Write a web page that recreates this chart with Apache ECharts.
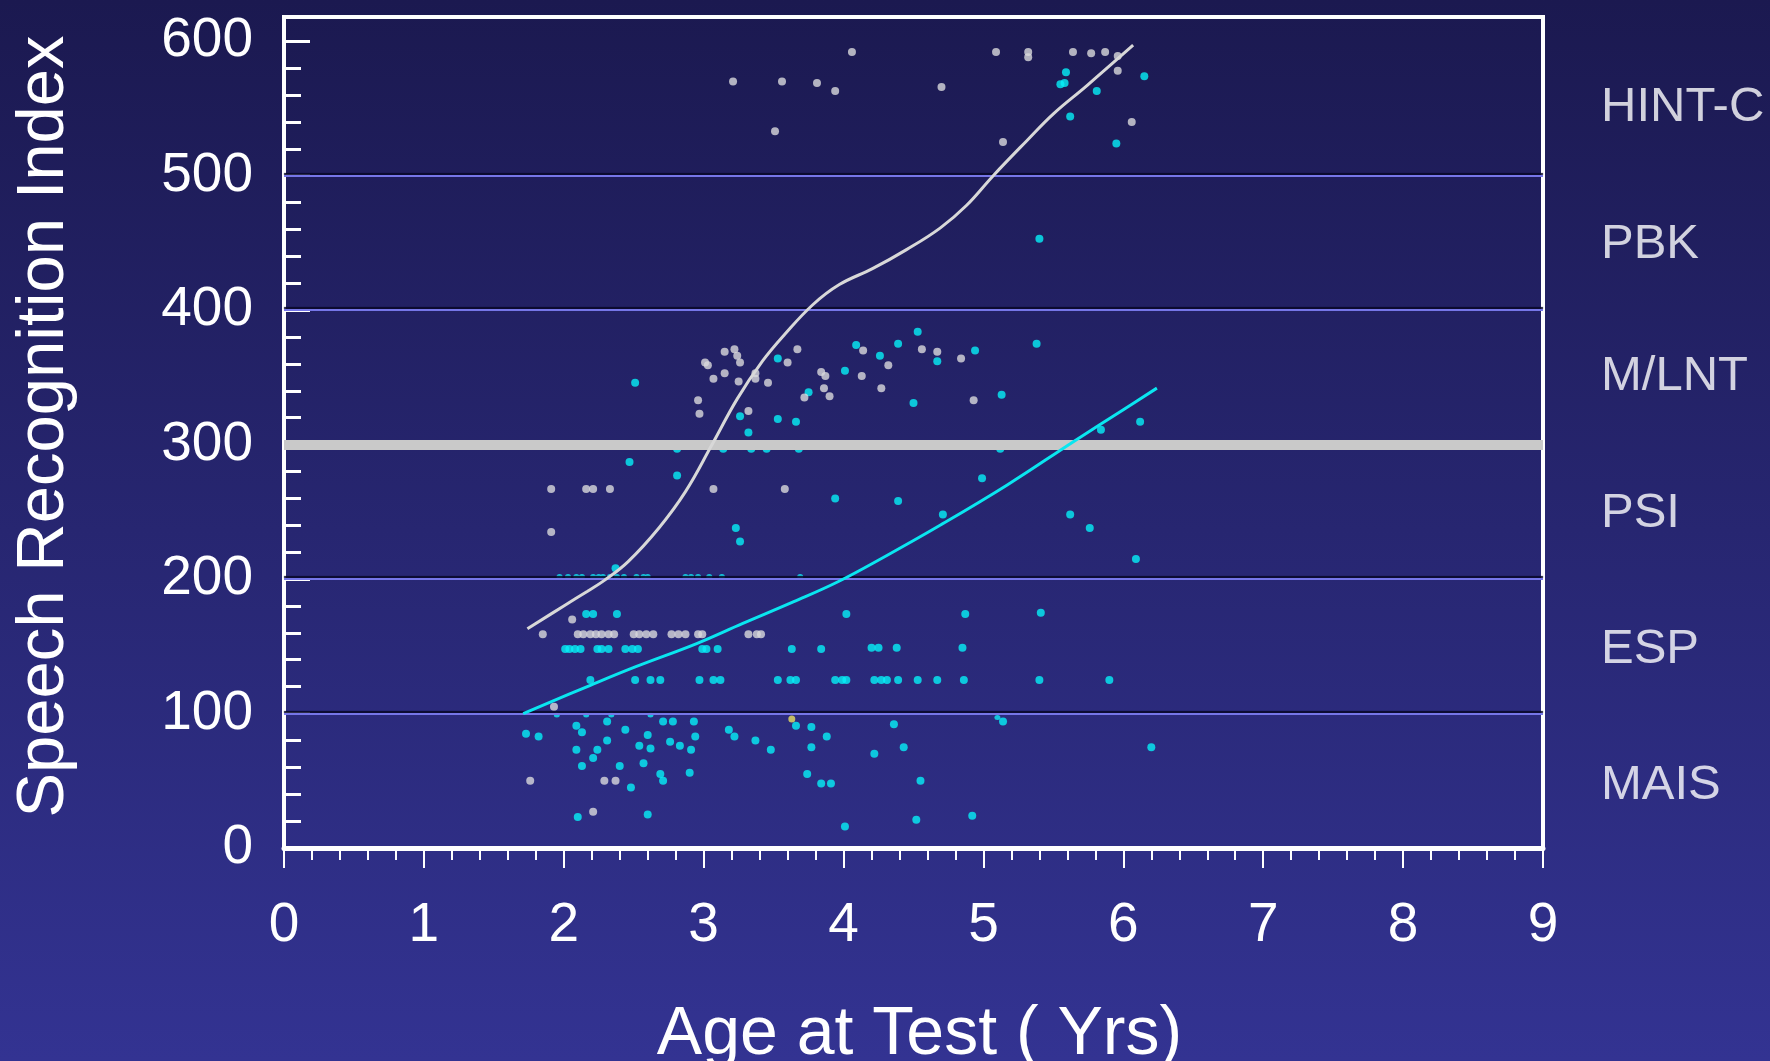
<!DOCTYPE html>
<html>
<head>
<meta charset="utf-8">
<script src="https://cdn.jsdelivr.net/npm/echarts@6/dist/echarts.min.js"></script>
<style>
html,body{margin:0;padding:0;width:1770px;height:1061px;overflow:hidden;}
#chart{width:1770px;height:1061px;}
</style>
</head>
<body>
<div id="chart"></div>
<script>
// ---- data ----
var xTicks = [0,1,2,3,4,5,6,7,8,9];
var yTicks = [0,100,200,300,400,500,600];
var bandNames = ['MAIS','ESP','PSI','M/LNT','PBK','HINT-C'];
var bandCenters = [49,150,251,353,451,553];
var bandLines = [100,200,400,500];
var criterionLine = 300;

var whitePoints = [
 [3.21,570],[3.56,570],[3.81,569],[3.94,563],[3.51,533],[4.06,592],[4.70,566],[5.09,592],[5.32,592],[5.32,588],
 [5.64,592],[5.77,591],[5.87,592],[5.96,589],[5.96,578],[6.06,540],[5.14,525],
 [3.15,369],[3.22,371],[3.24,366],[3.26,361],[3.01,361],[3.03,359],[3.67,371],[3.60,361],[3.15,353],[3.07,349],
 [3.25,347],[3.37,349],[3.46,346],[3.37,353],[2.96,333],[2.97,323],[3.32,325],[3.84,354],[3.87,351],[3.86,342],
 [3.90,336],[3.72,335],[4.14,370],[4.32,359],[4.13,351],[4.27,342],[4.56,371],[4.67,369],[4.84,364],[4.93,333],
 [1.91,267],[2.16,267],[2.21,267],[2.33,267],[3.07,267],[3.58,267],[1.91,235],
 [2.06,170],[1.85,159],[2.10,159],[2.14,159],[2.19,159],[2.23,159],[2.27,159],[2.32,159],[2.36,159],[2.50,159],
 [2.54,159],[2.59,159],[2.64,159],[2.77,159],[2.82,159],[2.87,159],[2.96,159],[2.99,159],[3.32,159],[3.38,159],
 [3.41,159],[1.93,105],[1.76,50],[2.29,50],[2.37,50],[2.21,27]
];
var cyanPoints = [
 [5.59,577],[5.55,568],[5.58,569],[5.81,563],[6.15,574],[5.62,544],[5.95,524],[5.40,453],
 [2.51,346],[3.53,364],[3.75,339],[3.26,321],[3.53,319],[3.66,317],[3.32,309],[2.81,297],[3.14,297],[3.34,297],
 [3.45,297],[3.68,297],[2.47,287],[2.81,277],[3.94,260],[3.23,238],[3.26,228],[2.37,208],
 [4.53,384],[4.09,374],[4.39,375],[4.26,366],[4.67,362],[4.94,370],[5.38,375],[4.01,355],[4.50,331],[5.13,337],
 [6.12,317],[5.84,311],[5.12,297],[4.99,275],[4.39,258],[4.71,248],[5.62,248],[5.76,238],[6.09,215],
 [2.16,174],[2.21,174],[2.38,174],[4.02,174],[4.87,174],[5.41,175],
 [2.01,148],[2.04,148],[2.08,148],[2.12,148],[2.24,148],[2.27,148],[2.32,148],[2.44,148],[2.49,148],[2.53,148],
 [2.99,148],[3.02,148],[3.10,148],[3.63,148],[3.84,148],[4.20,149],[4.25,149],[4.38,149],[4.85,149],
 [2.19,125],[2.51,125],[2.62,125],[2.69,125],[2.97,125],[3.07,125],[3.12,125],[3.53,125],[3.62,125],[3.66,125],
 [3.94,125],[3.99,125],[4.02,125],[4.22,125],[4.27,125],[4.31,125],[4.39,125],[4.53,125],[4.67,125],[4.86,125],
 [5.40,125],[5.90,125],
 [2.09,91],[2.13,86],[2.31,94],[2.44,88],[2.60,84],[2.71,94],[2.78,94],[2.93,94],[3.18,88],[3.22,83],[3.37,80],
 [3.66,91],[3.77,90],[3.88,83],[1.73,85],[1.82,83],[2.09,73],[2.24,73],[2.31,80],[2.54,76],[2.62,74],[2.76,79],
 [2.83,76],[2.94,83],[2.91,73],[3.48,73],[3.77,75],[2.21,67],[2.13,61],[2.40,61],[2.57,63],[2.69,55],[2.71,50],
 [2.90,56],[2.48,45],[3.74,55],[3.84,48],[3.91,48],[2.10,23],[2.60,25],[4.36,92],[5.14,94],[4.43,75],[4.22,70],
 [4.55,50],[4.52,21],[4.92,24],[4.01,16],[6.20,75]
];
var cyanSmallPoints = [
 [1.97,202],[2.03,202],[2.09,202],[2.13,202],[2.21,202],[2.25,202],[2.28,202],[2.33,202],[2.38,202],[2.43,202],
 [2.52,202],[2.57,202],[2.60,202],[2.87,202],[2.91,202],[2.96,202],[3.04,202],[3.13,202],[3.69,202],
 [1.95,99],[2.16,99],[2.34,99],[2.62,99],[5.10,97]
];
var yellowPoints = [[3.63,96]];
var whiteCurve = [
 [1.74,163],[2.00,180],[2.17,191],[2.29,199],[2.46,213],[2.68,238],[2.87,265],[3.06,300],[3.24,334],[3.42,362],
 [3.58,382],[3.78,404],[3.97,419],[4.21,431],[4.45,445],[4.69,461],[4.88,478],[5.07,500],[5.31,526],[5.50,546],
 [5.74,567],[6.07,597]
];
var cyanCurve = [
 [1.71,100],[2.19,121],[2.52,135],[2.95,152],[3.28,167],[3.64,183],[3.96,198],[4.30,217],[4.69,240],
 [5.17,270],[5.64,302],[6.00,326],[6.24,342]
];

var FONT = 'Liberation Sans, Arial, sans-serif';
var chart = echarts.init(document.getElementById('chart'), null, {renderer:'canvas'});

var bandLabelData = bandNames.map(function(n,i){ return [9, bandCenters[i], n]; });
var markLineData = bandLines.map(function(v){
  return {yAxis:v, lineStyle:{color:'#7676e8', width:2, type:'solid',
    shadowColor:'rgba(8,8,40,0.95)', shadowBlur:1, shadowOffsetY:-2}};
});
markLineData.push({yAxis:criterionLine, lineStyle:{color:'#c9c9c9', width:10, type:'solid'}});

var option = {
  backgroundColor: new echarts.graphic.LinearGradient(0,0,0,1,[
    {offset:0,color:'#1b1950'},{offset:1,color:'#333392'}
  ]),
  animation:false,
  grid:{left:284, right:227, top:17, bottom:213, containLabel:false, outerBoundsMode:'none',
        show:true, borderColor:'#ffffff', borderWidth:4, backgroundColor:'transparent'},
  xAxis:{
    type:'value', min:0, max:9, interval:1,
    axisLine:{show:true, onZero:false, lineStyle:{color:'#ffffff', width:5}},
    axisTick:{show:true, inside:false, length:20, lineStyle:{color:'#ffffff', width:2}},
    minorTick:{show:true, splitNumber:5, length:12, lineStyle:{color:'#ffffff', width:2}},
    axisLabel:{color:'#ffffff', fontSize:55, margin:50, fontFamily:FONT,
      formatter:function(v){ return xTicks.indexOf(v)>=0 ? String(v) : ''; }},
    splitLine:{show:false},
    name:'Age at Test ( Yrs)', nameLocation:'middle', nameGap:153,
    nameTextStyle:{color:'#ffffff', fontSize:68, fontFamily:FONT, padding:[0,0,0,12]}
  },
  yAxis:[{
    type:'value', min:0, max:618, interval:100, position:'left',
    axisLine:{show:true, onZero:false, lineStyle:{color:'#ffffff', width:4}},
    axisTick:{show:true, inside:true, length:26, lineStyle:{color:'#ffffff', width:3}},
    axisLabel:{color:'#ffffff', fontSize:55, margin:31, fontFamily:FONT, padding:[9,0,0,0],
      formatter:function(v){ return yTicks.indexOf(v)>=0 ? String(v) : ''; }},
    splitLine:{show:false},
    name:'Speech Recognition Index', nameLocation:'middle', nameGap:206,
    nameTextStyle:{color:'#ffffff', fontSize:67, fontFamily:FONT, padding:[0,0,0,12]}
  },{
    type:'value', min:0, max:618, interval:20, position:'left', offset:0,
    axisLine:{show:false},
    axisTick:{show:true, inside:true, length:17, lineStyle:{color:'#ffffff', width:3}},
    axisLabel:{show:false},
    splitLine:{show:false}
  }],
  series:[
    {type:'line', data:[[0,0]], showSymbol:false, symbolSize:0, lineStyle:{width:0}, z:1, silent:true,
     markLine:{silent:true, symbol:['none','none'], label:{show:false}, data:markLineData, animation:false}},
    {type:'scatter', data:cyanSmallPoints, symbol:'circle', symbolSize:[6,5], itemStyle:{color:'#10eaf4'}, z:2},
    {type:'scatter', data:cyanPoints, symbol:'circle', symbolSize:8, itemStyle:{color:'#06f0f8'}, z:3},
    {type:'scatter', data:whitePoints, symbol:'circle', symbolSize:8, itemStyle:{color:'#d9d9dc'}, z:4},
    {type:'scatter', data:yellowPoints, symbol:'circle', symbolSize:7, itemStyle:{color:'#e8e060'}, z:4},
    {type:'line', data:whiteCurve, smooth:0.4, showSymbol:false, lineStyle:{color:'#d8d8d8', width:3}, z:5},
    {type:'line', data:cyanCurve, smooth:0.4, showSymbol:false, lineStyle:{color:'#0ae6f0', width:3}, z:5},
    {type:'scatter', data:bandLabelData, symbolSize:0, clip:false, silent:true, z:6,
     label:{show:true, position:'right', distance:58, offset:[0,3], color:'#ffffff', fontSize:49, fontFamily:FONT,
       formatter:function(p){ return p.data[2]; }}}
  ]
};
chart.setOption(option);
</script>
</body>
</html>
